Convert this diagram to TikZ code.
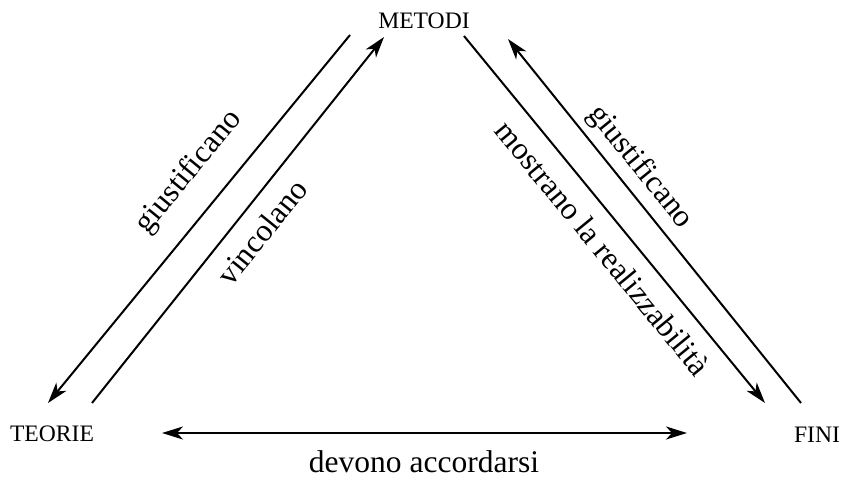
\documentclass[tikz,border=0pt]{standalone}
\usepackage{fontspec}
\setmainfont{Liberation Serif}
\usetikzlibrary{arrows.meta}
\begin{document}
\begin{tikzpicture}[x=1pt,y=1pt,
  corner/.style={font=\fontsize{23.6}{28}\selectfont, inner sep=0pt, anchor=base},
  lbl/.style={font=\fontsize{31.5}{36}\selectfont, inner sep=0pt},
  conn/.style={line width=2pt, -{Stealth[length=21pt,width=13pt,inset=6pt]}},
  both/.style={line width=2pt, {Stealth[length=21pt,width=13pt,inset=6pt]}-{Stealth[length=21pt,width=13pt,inset=6pt]}}]
\useasboundingbox (0,0) rectangle (843,477);
\node[corner] (metodi) at (424,448.7) {METODI};
\node[corner] (teorie) at (52,35.3) {TEORIE};
\node[corner] (fini) at (817,35) {FINI};
% arrow endpoints
\coordinate (a1s) at (350,442);
\coordinate (a1e) at (48,74);
\coordinate (a2s) at (92,74);
\coordinate (a2e) at (384,440);
\coordinate (a3s) at (464,441);
\coordinate (a3e) at (765,74);
\coordinate (a4s) at (801,74);
\coordinate (a4e) at (508,438);
\coordinate (bl) at (162,44);
\coordinate (br) at (687,44);
\draw[conn] (a1s) -- (a1e);
\draw[conn] (a2s) -- (a2e);
\draw[conn] (a3s) -- (a3e);
\draw[conn] (a4s) -- (a4e);
\draw[both] (bl) -- (br);
\node[lbl, rotate=50.6] (g1) at (189,305) {giustificano};
\node[lbl, rotate=51] (v1) at (262,245) {vincolano};
\node[lbl, rotate=-51] (g2) at (640,310) {giustificano};
\node[lbl, rotate=-50.6] (m1) at (603,229) {mostrano la realizzabilità};
\node[lbl, anchor=base] (dev) at (424,5) {devono accordarsi};
\end{tikzpicture}
\end{document}
